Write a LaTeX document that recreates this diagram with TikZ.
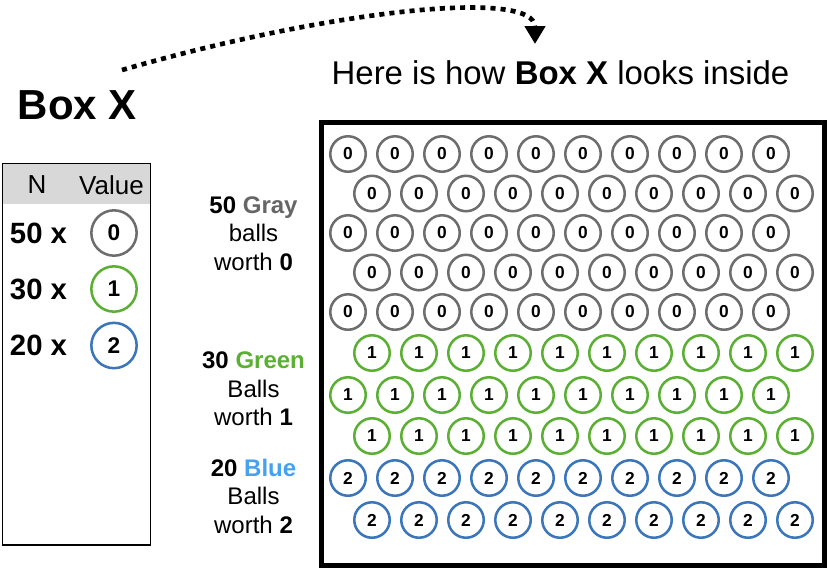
\documentclass[tikz,border=0pt]{standalone}
\usepackage{fontspec}
\setmainfont{Liberation Sans}
\usetikzlibrary{arrows.meta}
\definecolor{grisbola}{HTML}{6D6D6D}
\definecolor{gristexto}{HTML}{666666}
\definecolor{verdebola}{HTML}{5BB034}
\definecolor{azulbola}{HTML}{3B76BB}
\definecolor{azultexto}{HTML}{47A0F0}
\definecolor{griscabecera}{HTML}{D8D8D8}
\begin{document}
\begin{tikzpicture}[
    x=0.75pt, y=-0.75pt,
    bola/.style={circle, draw, line width=1.9pt, minimum size=26.6pt, inner sep=0pt, font=\fontsize{13}{15}\selectfont\bfseries},
    bolaleyenda/.style={circle, draw, line width=1.9pt, minimum size=34pt, inner sep=0pt, font=\fontsize{17}{20}\selectfont\bfseries},
    cabecera/.style={inner sep=0pt, font=\fontsize{19.5}{23}\selectfont},
    cantidad/.style={inner sep=0pt, font=\fontsize{22}{26}\selectfont\bfseries},
    etiqueta/.style={align=center, inner sep=0pt, font=\fontsize{18}{21.4}\selectfont},
    titulo/.style={inner sep=0pt, font=\fontsize{24.7}{29}\selectfont},
    flecha/.style={line width=3.5pt, dash pattern=on 3.8pt off 3.8pt, -{Triangle[length=13.5pt,width=15pt]}},
]
\useasboundingbox (0,0) rectangle (828,569);

\node (cajax) [titulo, font=\fontsize{31.5}{36}\selectfont\bfseries] at (77.5,105) {Box X};

\node (dentro) [titulo] at (560.5,73) {Here is how \textbf{Box X} looks inside};

\node (fondocab) [fill=griscabecera, minimum width=111pt, minimum height=30.4pt, inner sep=0pt, anchor=north west] at (2.5,163.5) {};
\node (leyenda) [draw, line width=1.1pt, minimum width=111pt, minimum height=286.1pt, inner sep=0pt] at (76.5,354.25) {};

\node (colN) [cabecera] at (37,185) {N};
\node (colV) [cabecera] at (111.5,185) {Value};

\node (n0) [cantidad] at (38.5,233) {50 x};
\node (n1) [cantidad] at (38.5,289) {30 x};
\node (n2) [cantidad] at (38.5,345.5) {20 x};

\node (v0) [bolaleyenda, draw=grisbola] at (114,233) {0};
\node (v1) [bolaleyenda, draw=verdebola] at (114,289) {1};
\node (v2) [bolaleyenda, draw=azulbola] at (114,345.5) {2};

\node (etgris) [etiqueta] at (253.5,233.5) {\textbf{50 \textcolor{gristexto}{Gray}}\\ balls\\ worth \textbf{0}};
\node (etverde) [etiqueta] at (253.5,389) {\textbf{30 \textcolor{verdebola}{Green}}\\ Balls\\ worth \textbf{1}};
\node (etazul) [etiqueta] at (253.5,496) {\textbf{20 \textcolor{azultexto}{Blue}}\\ Balls\\ worth \textbf{2}};

\node (caja) [draw, line width=3.4pt, minimum width=377.25pt, minimum height=332.25pt, inner sep=0pt] at (573,344) {};

\foreach \fila/\y/\x/\color/\valor in {1/154/348/grisbola/0, 2/193.5/372/grisbola/0, 3/233/348/grisbola/0, 4/272.5/372/grisbola/0, 5/312/348/grisbola/0, 6/353/372/verdebola/1, 7/395/348/verdebola/1, 8/436/372/verdebola/1, 9/478/348/azulbola/2, 10/520/372/azulbola/2} {
    \foreach \i in {0,...,9}
        \node (b\fila-\i) [bola, draw=\color] at ({\x+47*\i},\y) {\valor};
}

\coordinate (cola) at (122,70);
\coordinate (punta) at (535,44);
\draw [flecha] (cola) .. controls (330,10) and (535,-12) .. (punta);

\end{tikzpicture}
\end{document}
